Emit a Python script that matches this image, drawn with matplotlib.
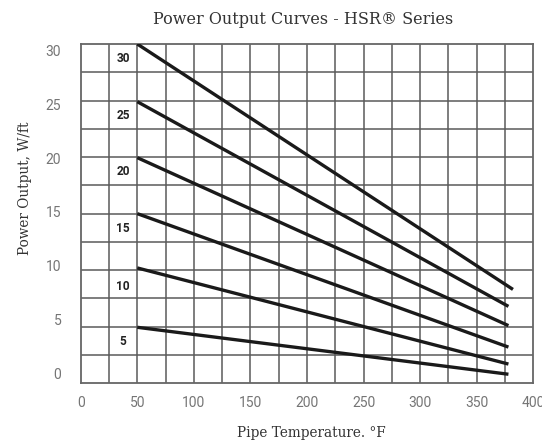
import matplotlib
matplotlib.use("Agg")
import matplotlib.pyplot as plt
import numpy as np

# ---- data ----
series_names = ["30", "25", "20", "15", "10", "5"]
temp_start = [50, 50, 50, 50, 50, 50]
temp_end = [382, 378, 378, 378, 378, 378]
power_start = [30.0, 24.9, 19.95, 15.0, 10.2, 4.95]
power_end = [8.3, 6.8, 5.1, 3.2, 1.7, 0.8]
label_x = [37.5] * 6
label_y = [28.7, 23.7, 18.7, 13.7, 8.6, 3.7]
x_ticks = [0, 50, 100, 150, 200, 250, 300, 350, 400]
y_ticks = [0, 5, 10, 15, 20, 25, 30]

fig = plt.figure(figsize=(5.42, 4.45), dpi=100)
ax = fig.add_axes([0.1489, 0.1387, 0.984 - 0.1489, 0.9011 - 0.1387])

ax.set_xlim(0, 400)
ax.set_ylim(0, 30)

grid_color = "#5a5a5a"
for gx in np.arange(25, 400, 25):
    ax.axvline(gx, color=grid_color, lw=1.1, zorder=1)
for gy in np.arange(2.5, 30, 2.5):
    ax.axhline(gy, color=grid_color, lw=1.1, zorder=1)
for s in ax.spines.values():
    s.set_color("#666666")
    s.set_linewidth(1.3)

for name, x0, x1, y0, y1, lx, ly in zip(series_names, temp_start, temp_end,
                                        power_start, power_end, label_x, label_y):
    ax.plot([x0, x1], [y0, y1], color="#1a1a1a", lw=2.4, solid_capstyle="butt", zorder=3)
    ax.text(lx, ly, name, ha="center", va="center", fontsize=8.6,
            fontweight="bold", family="Roboto", color="#222222", zorder=4)

tick_font = dict(family="Roboto", fontweight="normal", size=10)
ax.set_xticks(x_ticks)
ax.set_xticklabels([str(v) for v in x_ticks], color="#757575", **tick_font)
ax.tick_params(axis="x", length=0, pad=9)
ax.set_yticks([])

# y tick labels drawn on a separate label axis (as in the reference, offset from grid)
ax2 = ax.twinx()
ax2.yaxis.tick_left()
ax2.set_ylim(-0.93, 30.62)
ax2.set_yticks(y_ticks)
ax2.set_yticklabels([str(v) for v in y_ticks], color="#757575", **tick_font)
ax2.tick_params(axis="y", length=0, pad=14)
for s in ax2.spines.values():
    s.set_visible(False)

serif = "DejaVu Serif"
fig.text(303.6 / 542, 1 - 20 / 445, "Power Output Curves - HSR® Series",
         ha="center", va="center", family=serif, fontsize=11.5, color="#333333")
fig.text(25 / 542, 1 - 188 / 445, "Power Output, W/ft", rotation=90,
         ha="center", va="center", family=serif, fontsize=9.8, color="#333333")
fig.text(311.7 / 542, 1 - 433 / 445, "Pipe Temperature. °F",
         ha="center", va="center", family=serif, fontsize=9.8, color="#333333")

fig.savefig("out.png", dpi=100)
